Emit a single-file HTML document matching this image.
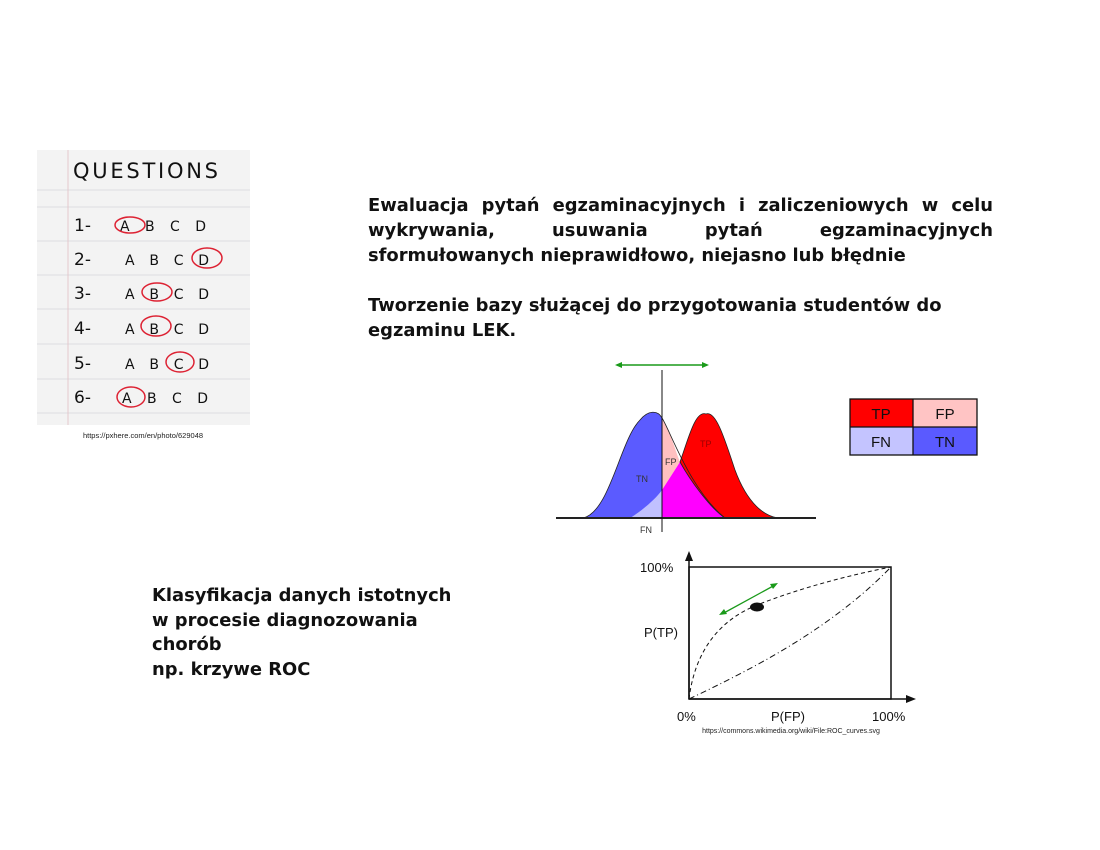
<!DOCTYPE html>
<html><head><meta charset="utf-8"><style>
body{margin:0;width:1100px;height:850px;background:#fff;position:relative;overflow:hidden;font-family:"Liberation Sans","DejaVu Sans",sans-serif}
.t{position:absolute;font-weight:bold;font-size:17.9px;line-height:25px;color:#111;font-family:"DejaVu Sans",sans-serif;white-space:nowrap}
.j{text-align:justify;text-align-last:justify;white-space:normal}
</style></head><body>
<div class="t" style="left:368px;top:193px;width:625px">
<div class="j">Ewaluacja pytań egzaminacyjnych i zaliczeniowych w celu</div>
<div class="j">wykrywania, usuwania pytań egzaminacyjnych</div>
<div>sformułowanych nieprawidłowo, niejasno lub błędnie</div>
<div>&nbsp;</div>
<div>Tworzenie bazy służącej do przygotowania studentów do</div>
<div>egzaminu LEK.</div>
</div>
<div class="t" style="left:152px;top:584px;line-height:24.5px">Klasyfikacja danych istotnych<br>w procesie diagnozowania<br>chorób<br>np. krzywe ROC</div>
<svg width="1100" height="850" style="position:absolute;left:0;top:0" font-family="Liberation Sans, DejaVu Sans, sans-serif">
<rect x="37" y="150" width="213" height="275" fill="#f3f3f3"/>
<g stroke="#dcdce2" stroke-width="1">
<line x1="37" y1="190" x2="250" y2="190"/><line x1="37" y1="207" x2="250" y2="207"/><line x1="37" y1="241" x2="250" y2="241"/><line x1="37" y1="275" x2="250" y2="275"/><line x1="37" y1="309" x2="250" y2="309"/><line x1="37" y1="344" x2="250" y2="344"/><line x1="37" y1="379" x2="250" y2="379"/><line x1="37" y1="413" x2="250" y2="413"/>
</g>
<line x1="68" y1="150" x2="68" y2="425" stroke="#e4c8cc"/>
<text x="73" y="178" font-size="21" font-family="DejaVu Sans, sans-serif" fill="#111" textLength="145">QUESTIONS</text>
<g font-size="17" font-family="DejaVu Sans, sans-serif" fill="#111">
<text x="74" y="231">1-</text><text x="120" y="231" font-size="14" textLength="86">A B C D</text>
<text x="74" y="265">2-</text><text x="125" y="265" font-size="14" textLength="84">A B C D</text>
<text x="74" y="299">3-</text><text x="125" y="299" font-size="14" textLength="84">A B C D</text>
<text x="74" y="334">4-</text><text x="125" y="334" font-size="14" textLength="84">A B C D</text>
<text x="74" y="369">5-</text><text x="125" y="369" font-size="14" textLength="84">A B C D</text>
<text x="74" y="403">6-</text><text x="122" y="403" font-size="14" textLength="86">A B C D</text>
</g>
<g fill="none" stroke="#d23" stroke-width="1.5">
<ellipse cx="130" cy="225" rx="15" ry="8"/><ellipse cx="207" cy="258" rx="15" ry="10"/><ellipse cx="157" cy="292" rx="15" ry="9"/><ellipse cx="156" cy="326" rx="15" ry="10"/><ellipse cx="180" cy="362" rx="14" ry="10"/><ellipse cx="131" cy="397" rx="14" ry="10"/>
</g>
<text x="143" y="438" font-size="7.5" text-anchor="middle" fill="#222">https://pxhere.com/en/photo/629048</text>
<path d="M583,518 C610,512 620,440 640,420 C648,410 658,410 662,418 L662,518 Z" fill="#5b5bff" stroke="#222" stroke-width="0.8"/>
<path d="M662,418 C670,430 675,450 680,462 L662,490 Z" fill="#ffc0c0"/>
<path d="M662,518 L662,490 C655,500 640,512 630,518 Z" fill="#c0c0ff"/>
<path d="M662,490 L680,462 C690,480 710,508 725,518 L662,518 Z" fill="#ff00ff"/>
<path d="M680,462 C688,440 695,410 706,414 C716,410 725,440 735,470 C748,505 765,516 778,518 L725,518 C710,508 690,480 680,462 Z" fill="#ff0000" stroke="#222" stroke-width="0.8"/>
<path d="M662,418 C670,430 690,490 725,518" fill="none" stroke="#222" stroke-width="0.8"/>
<line x1="556" y1="518" x2="816" y2="518" stroke="#222" stroke-width="2"/>
<line x1="662" y1="370" x2="662" y2="532" stroke="#111" stroke-width="1"/>
<line x1="617" y1="365" x2="707" y2="365" stroke="#1a9a1a" stroke-width="1.5"/>
<path d="M615,365 l7,-3 v6z M709,365 l-7,-3 v6z" fill="#1a9a1a"/>
<g font-size="9" fill="#333"><text x="636" y="482">TN</text><text x="665" y="465">FP</text><text x="700" y="447" fill="#900">TP</text><text x="640" y="533">FN</text></g>
<rect x="850" y="399" width="63" height="28" fill="#ff0000"/><rect x="913" y="399" width="64" height="28" fill="#ffc4c4"/>
<rect x="850" y="427" width="63" height="28" fill="#c4c4ff"/><rect x="913" y="427" width="64" height="28" fill="#5a5aff"/>
<g stroke="#111" stroke-width="1.3" fill="none"><rect x="850" y="399" width="127" height="56"/><line x1="850" y1="427" x2="977" y2="427"/><line x1="913" y1="399" x2="913" y2="455"/></g>
<g font-size="15" text-anchor="middle" fill="#111"><text x="881" y="419">TP</text><text x="945" y="419">FP</text><text x="881" y="447">FN</text><text x="945" y="447">TN</text></g>
<rect x="689" y="567" width="202" height="132" fill="none" stroke="#111" stroke-width="1.5"/>
<line x1="689" y1="699" x2="689" y2="556" stroke="#111" stroke-width="1.5"/><path d="M689,551 l-4,10 h8z" fill="#111"/>
<line x1="689" y1="699" x2="910" y2="699" stroke="#111" stroke-width="1.5"/><path d="M916,699 l-10,-4 v8z" fill="#111"/>
<path d="M689,699 C695,650 720,620 757,605 C800,588 850,575 891,567" fill="none" stroke="#111" stroke-width="1" stroke-dasharray="4,3"/>
<path d="M689,699 C750,670 830,630 891,567" fill="none" stroke="#111" stroke-width="1" stroke-dasharray="6,3,1,3"/>
<ellipse cx="757" cy="607" rx="7" ry="4.5" fill="#111"/>
<line x1="722" y1="614" x2="775" y2="585" stroke="#1a9a1a" stroke-width="1.3"/>
<path d="M719,615 l8,-1 l-3,-5z M778,583 l-8,1 l3,5z" fill="#1a9a1a"/>
<g font-size="13" fill="#111"><text x="640" y="572">100%</text><text x="644" y="637">P(TP)</text><text x="677" y="721">0%</text><text x="771" y="721">P(FP)</text><text x="872" y="721">100%</text></g>
<text x="791" y="733" font-size="7" text-anchor="middle" fill="#222">https://commons.wikimedia.org/wiki/File:ROC_curves.svg</text>
</svg>
</body></html>
